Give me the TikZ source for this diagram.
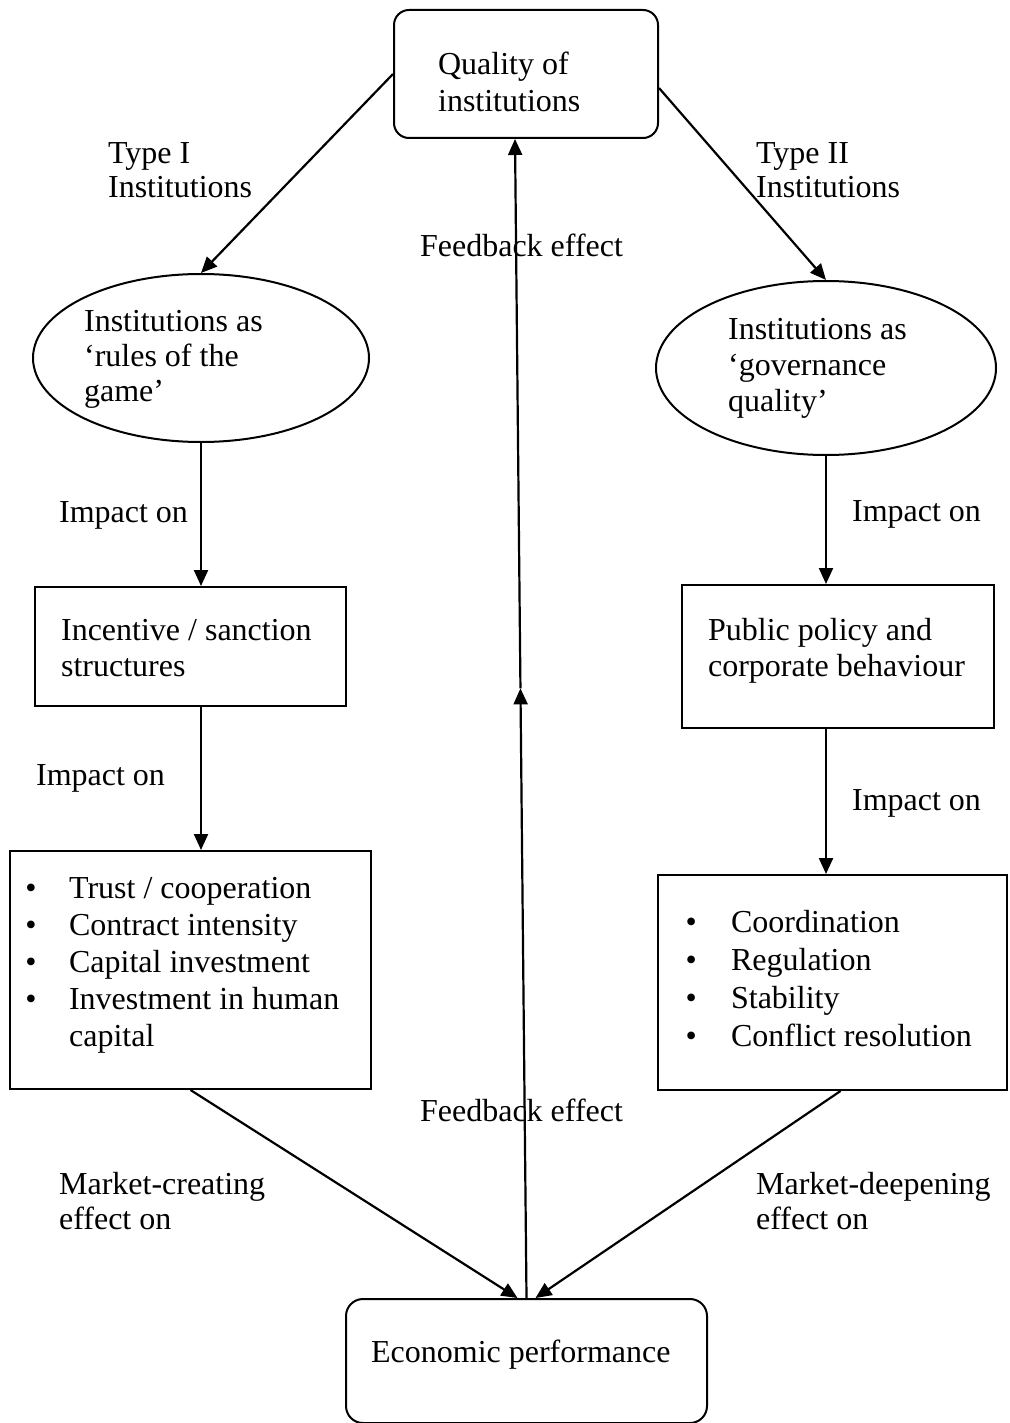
\documentclass[tikz,border=0pt]{standalone}
\usepackage{fontspec}
\setmainfont{Liberation Serif}
\usetikzlibrary{arrows.meta,shapes.geometric,calc}
\newcommand\fsz[1]{\fontsize{32}{#1}\selectfont}
\newcommand\bul[1]{\makebox[12pt]{•}\hspace*{#1}}
\begin{document}
\begin{tikzpicture}[x=1pt,y=-1pt,
  line width=2.2pt,
  arr/.style={-{Triangle[length=16pt,width=14pt]}},
  rbox/.style={draw,rounded corners=15pt,inner sep=0,line width=2pt},
  sbox/.style={draw,inner sep=0,line width=2pt},
  ell/.style={draw,ellipse,inner sep=0,line width=2pt},
  txt/.style={inner sep=0,anchor=north west,align=left},
  one/.style={inner sep=0,anchor=base west,font=\fsz{37}}]
\useasboundingbox[fill=white] (0,0) rectangle (1009,1423);

% shapes
\node[rbox,minimum width=264pt,minimum height=128pt] (q) at (526,74) {};
\node[ell,minimum width=336pt,minimum height=168pt] (e1) at (201,358) {};
\node[ell,minimum width=340pt,minimum height=174pt] (e2) at (826,368) {};
\node[sbox,minimum width=311pt,minimum height=119pt] (r1) at (190.5,646.5) {};
\node[sbox,minimum width=312pt,minimum height=143pt] (r2) at (838,656.5) {};
\node[sbox,minimum width=361pt,minimum height=238pt] (b1) at (190.5,970) {};
\node[sbox,minimum width=349pt,minimum height=215pt] (b2) at (832.5,982.5) {};
\node[rbox,rounded corners=17pt,minimum width=361pt,minimum height=124pt] (ep) at (526.5,1361) {};

% texts
\node[txt,font=\fsz{37}] (tq) at (437,47.1) {\strut Quality of\\institutions};
\node[txt,font=\fsz{34}] (t1) at (107,138.2) {\strut Type I\\Institutions};
\node[txt,font=\fsz{34}] (t2) at (755,138.2) {\strut Type II\\Institutions};
\node[one] (fb1) at (419,257) {Feedback effect};
\node[txt,font=\fsz{35}] (te1) at (83,305.5) {\strut Institutions as\\‘rules of the\\game’};
\node[txt,font=\fsz{36}] (te2) at (727,312.8) {\strut Institutions as\\‘governance\\quality’};
\node[one] (i1) at (58,522) {Impact on};
\node[one] (i2) at (851,521) {Impact on};
\node[txt,font=\fsz{36}] (tr1) at (60,613.8) {\strut Incentive / sanction\\structures};
\node[txt,font=\fsz{36}] (tr2) at (707,613.8) {\strut Public policy and\\corporate behaviour};
\node[one] (i3) at (35,785) {Impact on};
\node[one] (i4) at (851,810) {Impact on};
\node[txt,font=\fsz{37}] (tb1) at (24,871.1) {\strut\bul{32pt}Trust / cooperation\\\bul{32pt}Contract intensity\\\bul{32pt}Capital investment\\\bul{32pt}Investment in human\\\hspace*{44pt}capital};
\node[txt,font=\fsz{38}] (tb2) at (684,904.4) {\strut\bul{34pt}Coordination\\\bul{34pt}Regulation\\\bul{34pt}Stability\\\bul{34pt}Conflict resolution};
\node[one] (fb2) at (419,1121) {Feedback effect};
\node[txt,font=\fsz{35}] (m1) at (58,1168.5) {\strut Market-creating\\effect on};
\node[txt,font=\fsz{35}] (m2) at (755,1168.5) {\strut Market-deepening\\effect on};
\node[one] (tep) at (370,1362) {Economic performance};

% connectors
\draw[arr] (q.west) -- (e1.north);
\draw[arr] ([yshift=-14pt]q.east) -- (e2.north);
\draw[arr] (e1.south) -- (e1.south |- r1.north);
\draw[arr] (e1.south |- r1.south) -- (e1.south |- b1.north);
\draw[arr] (e2.south) -- (e2.south |- r2.north);
\draw[arr] (e2.south |- r2.south) -- (e2.south |- b2.north);
\draw[arr] (b1.south) -- ([xshift=-9pt]ep.north);
\draw[arr] ([xshift=8pt]b2.south) -- ([xshift=9pt]ep.north);
\coordinate (qs) at ([xshift=-11pt]q.south);
\coordinate (mid) at ($(ep.north)!0.526!(qs)$);
\draw[arr] (ep.north) -- (mid);
\draw[arr] (mid) -- (qs);
\end{tikzpicture}
\end{document}
